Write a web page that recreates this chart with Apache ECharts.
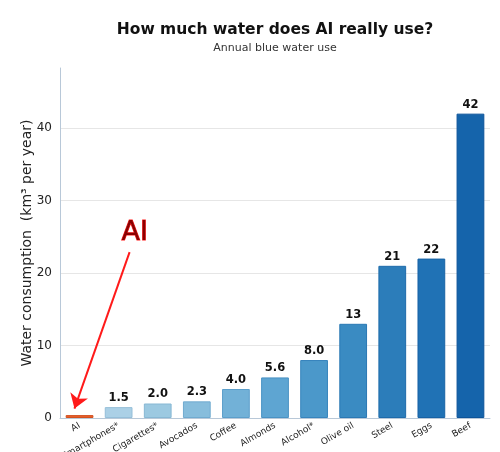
<!DOCTYPE html>
<html>
<head>
<meta charset="utf-8">
<script src="https://cdn.jsdelivr.net/npm/echarts@6/dist/echarts.min.js"></script>
<style>
	html, body { margin: 0; padding: 0; background: #fff; }
	#chart { width: 500px; height: 452px; }
</style>
</head>
<body>
<div id="chart"></div>
<script>
var categories = ["AI", "Smartphones*", "Cigarettes*", "Avocados", "Coffee", "Almonds", "Alcohol*", "Olive oil", "Steel", "Eggs", "Beef"];
var waterUse = [0.4, 1.5, 2.0, 2.3, 4.0, 5.6, 8.0, 13, 21, 22, 42];
var barColors = ["#e8602c", "#abd0e6", "#9cc9e1", "#87bddc", "#72b1d7", "#5ea5d2", "#4b98ca", "#3a8bc2", "#2c7dba", "#2072b5", "#1564ab"];
var edgeColors = ["#d2501f", "#95bfd9", "#87b8d4", "#70abd0", "#5c9fcb", "#4992c4", "#3784bd", "#2a78b4", "#1e6bab", "#1762a5", "#0d549a"];
var gridValues = [10, 20, 30, 40];
// annotation arrow: from (x index, value) to (x index, value)
var arrowFrom = [1.28, 22.9];
var arrowTo = [-0.13, 1.3];
var aiTextAt = [1.41, 25.6];

var chart = echarts.init(document.getElementById("chart"));

var barData = [];
for (var i = 0; i < waterUse.length; i++) {
	barData.push({
		value: waterUse[i],
		itemStyle: { color: barColors[i], borderColor: edgeColors[i], borderWidth: 1 },
		label: { show: i > 0 }
	});
}

var gridLines = [];
for (var j = 0; j < gridValues.length; j++) {
	gridLines.push({ yAxis: gridValues[j] });
}

var option = {
	animation: false,
	textStyle: { fontFamily: "DejaVu Sans" },
	title: {
		text: "How much water does AI really use?",
		subtext: "Annual blue water use",
		left: 270,
		top: 17,
		textAlign: "center",
		itemGap: 5,
		textStyle: { fontSize: 15.5, fontWeight: "bold", color: "#111" },
		subtextStyle: { fontSize: 11, color: "#333" }
	},
	grid: { left: 60, right: 10, top: 68, bottom: 34, outerBoundsMode: "none", containLabel: false },
	xAxis: [{
		type: "category",
		data: categories,
		axisLine: { lineStyle: { color: "#b8c8d8" } },
		axisTick: { show: false },
		axisLabel: { rotate: 30, fontSize: 9, color: "#222", margin: 7, interval: 0 }
	}, {
		type: "value",
		min: -0.5,
		max: 10.5,
		show: false
	}],
	yAxis: {
		type: "value",
		min: 0,
		max: 48.3,
		interval: 10,
		name: "Water consumption  (km³ per year)",
		nameLocation: "middle",
		nameGap: 26,
		nameMoveOverlap: false,
		nameTextStyle: { fontSize: 14, color: "#222" },
		axisLine: { show: true, onZero: false, lineStyle: { color: "#b8c8d8" } },
		axisTick: { show: false },
		axisLabel: { fontSize: 12, color: "#222", margin: 8, showMaxLabel: false },
		splitLine: { show: false }
	},
	series: [{
		type: "line",
		data: [],
		silent: true,
		z: 0,
		markLine: {
			silent: true,
			z: 0,
			symbol: "none",
			label: { show: false },
			lineStyle: { color: "#e6e6e6", width: 1, type: "solid" },
			data: gridLines
		}
	}, {
		type: "bar",
		data: barData,
		barWidth: "71%",
		z: 2,
		label: {
			position: "top",
			distance: 3,
			fontSize: 11.5,
			fontWeight: "bold",
			color: "#111",
			formatter: function (p) { return p.value < 10 ? p.value.toFixed(1) : String(Math.round(p.value)); }
		}
	}, {
		type: "line",
		xAxisIndex: 1,
		data: [],
		silent: true,
		z: 5,
		markLine: {
			silent: true,
			z: 6,
			symbol: ["none", "arrow"],
			symbolSize: 14,
			lineStyle: { color: "#ff1a1a", width: 2, type: "solid" },
			label: { show: false },
			data: [[{ coord: arrowFrom }, { coord: arrowTo }]]
		},
		markPoint: {
			silent: true,
			z: 6,
			symbol: "circle",
			symbolSize: 0,
			label: {
				show: true,
				position: "inside",
				formatter: "AI",
				fontSize: 27,
				fontWeight: "normal",
				color: "#8b0000",
				textBorderColor: "#ff2020",
				textBorderWidth: 1
			},
			data: [{ coord: aiTextAt }]
		}
	}]
};

chart.setOption(option);
</script>
</body>
</html>
